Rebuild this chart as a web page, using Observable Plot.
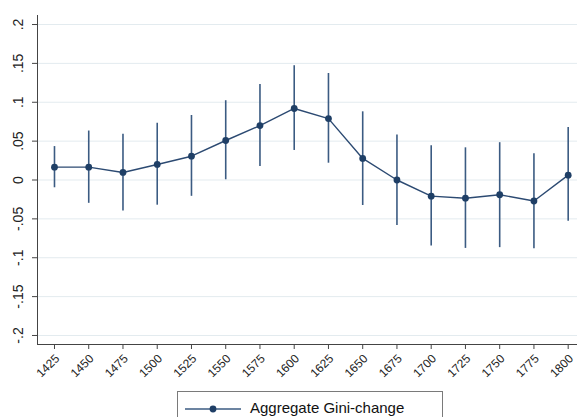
<!DOCTYPE html>
<html>
<head>
<meta charset="utf-8">
<script src="https://cdn.jsdelivr.net/npm/d3@7"></script>
<script src="https://cdn.jsdelivr.net/npm/@observablehq/plot@0.6"></script>
<style>
  html, body { margin: 0; padding: 0; background: #fff; overflow: hidden; }
  #wrap { position: relative; width: 577px; height: 417px; font-family: "Liberation Sans", Arial, Helvetica, sans-serif; }
  #legend { position: absolute; left: 177px; top: 391px; width: 266px; height: 40px; border: 1px solid #7a7a7a; background: #fff; box-sizing: border-box; }
  #legend svg { position: absolute; left: 6px; top: 10px; }
  #legend span { position: absolute; left: 72px; top: 7px; font-size: 15px; color: #111; white-space: nowrap; }
</style>
</head>
<body>
<div id="wrap">
  <div id="chart"></div>
  <div id="legend">
    <svg width="60" height="14"><line x1="1" y1="7" x2="57" y2="7" stroke="#3b5b82" stroke-width="1.4"/><circle cx="29" cy="7" r="3.4" fill="#1f3f66"/></svg>
    <span>Aggregate Gini-change</span>
  </div>
</div>
<script>
const years = [1425,1450,1475,1500,1525,1550,1575,1600,1625,1650,1675,1700,1725,1750,1775,1800];
const gini  = [0.0165,0.0165,0.0097,0.020,0.0306,0.0508,0.070,0.092,0.079,0.0277,0.0,-0.0208,-0.0234,-0.019,-0.027,0.0062];
const upper = [0.043,0.063,0.059,0.073,0.083,0.102,0.123,0.147,0.137,0.0877,0.058,0.044,0.0414,0.048,0.0337,0.0675];
const lower = [-0.010,-0.030,-0.040,-0.0324,-0.021,0.0003,0.0174,0.038,0.0216,-0.0328,-0.0585,-0.085,-0.088,-0.087,-0.0885,-0.053];
const yTicks = [-0.2,-0.15,-0.1,-0.05,0,0.05,0.1,0.15,0.2];

const data = years.map((y, i) => ({year: y, v: gini[i], lo: lower[i], hi: upper[i]}));
const fmt = d => d === 0 ? "0" : String(d).replace("0.", ".");

const chart = Plot.plot({
  width: 577,
  height: 388,
  marginLeft: 37,
  marginRight: 0,
  marginTop: 15,
  marginBottom: 44,
  style: {fontFamily: "'Liberation Sans', Arial, Helvetica, sans-serif", background: "#fff", color: "#222"},
  x: {domain: [1412.6, 1806.8], axis: null},
  y: {domain: [-0.2116, 0.2116], axis: null},
  marks: [
    Plot.gridY(yTicks, {stroke: "#e3ebef", strokeOpacity: 1, strokeWidth: 1}),
    Plot.axisY({ticks: yTicks, tickSize: 5, tickFormat: () => "", stroke: "#444", label: null}),
    Plot.text(yTicks, {y: d => d, text: fmt, frameAnchor: "left", dx: -19, rotate: -90, textAnchor: "middle", lineAnchor: "middle", fontSize: 14, fill: "#222"}),
    Plot.axisX({ticks: years, tickSize: 5, tickFormat: () => "", stroke: "#444", label: null}),
    Plot.text(years, {x: d => d, text: d => String(d), frameAnchor: "bottom", dx: 3, dy: 12, rotate: -45, textAnchor: "end", lineAnchor: "middle", fontSize: 12, fill: "#222"}),
    Plot.frame({anchor: "left", stroke: "#444"}),
    Plot.frame({anchor: "bottom", stroke: "#444"}),
    Plot.ruleX(data, {x: "year", y1: "lo", y2: "hi", stroke: "#3b5b82", strokeWidth: 1.6}),
    Plot.line(data, {x: "year", y: "v", stroke: "#2c4a72", strokeWidth: 1.4}),
    Plot.dot(data, {x: "year", y: "v", r: 3.4, fill: "#1f3f66", stroke: "none"})
  ]
});
document.getElementById("chart").appendChild(chart);
</script>
</body>
</html>
